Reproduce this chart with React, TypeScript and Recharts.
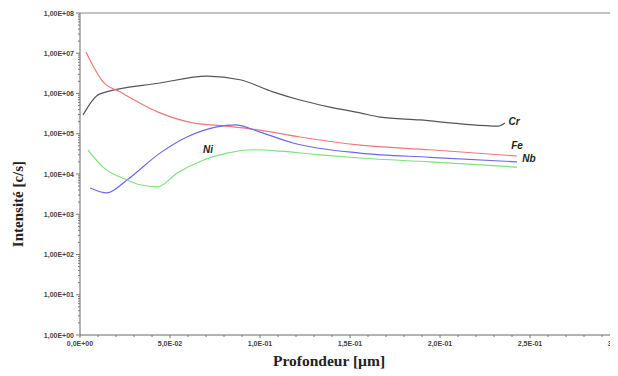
import React from 'react';
import { LineChart, Line, XAxis, YAxis, ReferenceDot, ReferenceLine } from 'recharts';

// Depth (µm) and intensity (c/s)
const crDepth = [0.0017, 0.0111, 0.0444, 0.0706, 0.0889, 0.1072, 0.1222, 0.1389, 0.1556, 0.1667, 0.1889, 0.2128, 0.2322, 0.2361];
const crValues = [2.95e5, 9.8e5, 1.82e6, 2.7e6, 2.2e6, 1.1e6, 6.9e5, 4.6e5, 3.3e5, 2.6e5, 2.2e5, 1.74e5, 1.55e5, 1.86e5];

const feDepth = [0.0033, 0.0128, 0.0222, 0.0444, 0.0628, 0.0817, 0.1, 0.1222, 0.1556, 0.1944, 0.2428];
const feValues = [1.07e7, 1.95e6, 1.1e6, 3.3e5, 1.86e5, 1.55e5, 1.23e5, 8.3e4, 5.2e4, 4.0e4, 2.8e4];

const nbDepth = [0.0056, 0.015, 0.0261, 0.0444, 0.0594, 0.0761, 0.0861, 0.1, 0.1183, 0.1556, 0.1944, 0.2428];
const nbValues = [4.5e3, 3.4e3, 7.1e3, 3.3e4, 8.3e4, 1.48e5, 1.66e5, 1.1e5, 5.9e4, 3.3e4, 2.6e4, 2.0e4];

const niDepth = [0.0044, 0.0128, 0.0261, 0.0333, 0.0433, 0.0539, 0.0683, 0.0817, 0.0961, 0.1111, 0.1333, 0.1556, 0.1944, 0.2428];
const niValues = [4.0e4, 1.48e4, 7.1e3, 5.4e3, 4.8e3, 1.05e4, 2.2e4, 3.3e4, 4.0e4, 3.7e4, 3.0e4, 2.5e4, 2.0e4, 1.48e4];

const seriesLabels = [
  { name: 'Cr', depth: 0.2411, value: 2.07e5 },
  { name: 'Fe', depth: 0.2428, value: 5.25e4 },
  { name: 'Nb', depth: 0.2494, value: 2.5e4 },
  { name: 'Ni', depth: 0.0711, value: 4.0e4 },
];

const yMajorTicks = [1, 10, 100, 1e3, 1e4, 1e5, 1e6, 1e7, 1e8];
const xMajorTicks = [0, 0.05, 0.1, 0.15, 0.2, 0.25, 0.3];

const toRows = (d: number[], v: number[]) => d.map((x, i) => ({ x, y: v[i] }));
const crData = toRows(crDepth, crValues);
const feData = toRows(feDepth, feValues);
const nbData = toRows(nbDepth, nbValues);
const niData = toRows(niDepth, niValues);

const yTicks: number[] = [];
yMajorTicks.forEach((t, i) => {
  yTicks.push(t);
  if (i < yMajorTicks.length - 1) {
    for (let m = 2; m <= 9; m++) yTicks.push(t * m);
  }
});
const xTicks: number[] = [];
for (let i = 0; i <= 30; i++) xTicks.push(i / 100);

const isMajorY = (v: number) => yMajorTicks.some((t) => Math.abs(t - v) < t * 1e-6);
const isMajorX = (v: number) => xMajorTicks.some((t) => Math.abs(t - v) < 1e-6);

const fmtY = (v: number) => {
  const e = Math.round(Math.log10(v));
  return `1,00E+${String(e).padStart(2, '0')}`;
};
const fmtX = (v: number) => {
  if (v === 0) return '0,0E+00';
  const e = Math.floor(Math.log10(v) + 1e-9);
  const m = v / Math.pow(10, e);
  return `${m.toFixed(1).replace('.', ',')}E-${String(-e).padStart(2, '0')}`;
};

const YTick = (props: any) => {
  const { x, y, payload } = props;
  const major = isMajorY(payload.value);
  return (
    <g>
      <line x1={x - (major ? 4 : 2)} x2={x} y1={y} y2={y} stroke="#777" strokeWidth={1} />
      {major && (
        <text x={x - 6} y={y} dy={2.5} textAnchor="end" fontSize={7} fontWeight="bold" fontFamily="Arial, Liberation Sans, sans-serif" fill="#444">
          {fmtY(payload.value)}
        </text>
      )}
    </g>
  );
};

const XTick = (props: any) => {
  const { x, y, payload } = props;
  const major = isMajorX(payload.value);
  return (
    <g>
      <line x1={x} x2={x} y1={y} y2={y + (major ? 3 : 2)} stroke="#777" strokeWidth={1} />
      {major && (
        <text x={x} y={y + 11} textAnchor="middle" fontSize={7} fontWeight="bold" fontFamily="Arial, Liberation Sans, sans-serif" fill="#444">
          {fmtX(payload.value)}
        </text>
      )}
    </g>
  );
};

export default function App() {
  return (
    <div style={{ width: 610, height: 368, overflow: 'hidden', background: '#fff' }}>
      <LineChart width={640} height={368} margin={{ top: 5, right: 28, bottom: 0, left: 0 }}>
        <XAxis
          type="number"
          dataKey="x"
          domain={[0, 0.3]}
          ticks={xTicks}
          tick={<XTick />}
          tickSize={0}
          tickMargin={0}
          tickLine={false}
          interval={0}
          height={41}
          stroke="#666"
          allowDataOverflow
        />
        <YAxis
          type="number"
          dataKey="y"
          scale="log"
          domain={[1, 1e8]}
          ticks={yTicks}
          tick={<YTick />}
          tickSize={0}
          tickMargin={0}
          tickLine={false}
          interval={0}
          width={72}
          stroke="#666"
          allowDataOverflow
        />
        <ReferenceLine y={1e8} stroke="#888" strokeWidth={1} />
        <Line data={crData} dataKey="y" type="monotone" stroke="#555555" strokeWidth={1.2} dot={false} isAnimationActive={false} />
        <Line data={feData} dataKey="y" type="monotone" stroke="#f07878" strokeWidth={1.2} dot={false} isAnimationActive={false} />
        <Line data={nbData} dataKey="y" type="monotone" stroke="#6a6ae8" strokeWidth={1.2} dot={false} isAnimationActive={false} />
        <Line data={niData} dataKey="y" type="monotone" stroke="#7ee07e" strokeWidth={1.2} dot={false} isAnimationActive={false} />
        {seriesLabels.map((l) => (
          <ReferenceDot
            key={l.name}
            x={l.depth}
            y={l.value}
            r={0}
            fill="none"
            stroke="none"
            label={{
              value: l.name,
              position: 'center',
              fontSize: 10,
              fontStyle: 'italic',
              fontWeight: 'bold',
              fontFamily: 'Arial, Liberation Sans, sans-serif',
              fill: '#222',
            }}
          />
        ))}
        <text x={10} y={196} transform="rotate(-90 10 196)" textAnchor="middle" dominantBaseline="central" fontSize={15} fontWeight="bold" fontFamily="'Liberation Serif', 'Times New Roman', serif" fill="#222">
          Intensité [c/s]
        </text>
        <text x={321} y={352} textAnchor="middle" dominantBaseline="central" fontSize={15.5} fontWeight="bold" fontFamily="'Liberation Serif', 'Times New Roman', serif" fill="#222">
          Profondeur [µm]
        </text>
      </LineChart>
    </div>
  );
}
